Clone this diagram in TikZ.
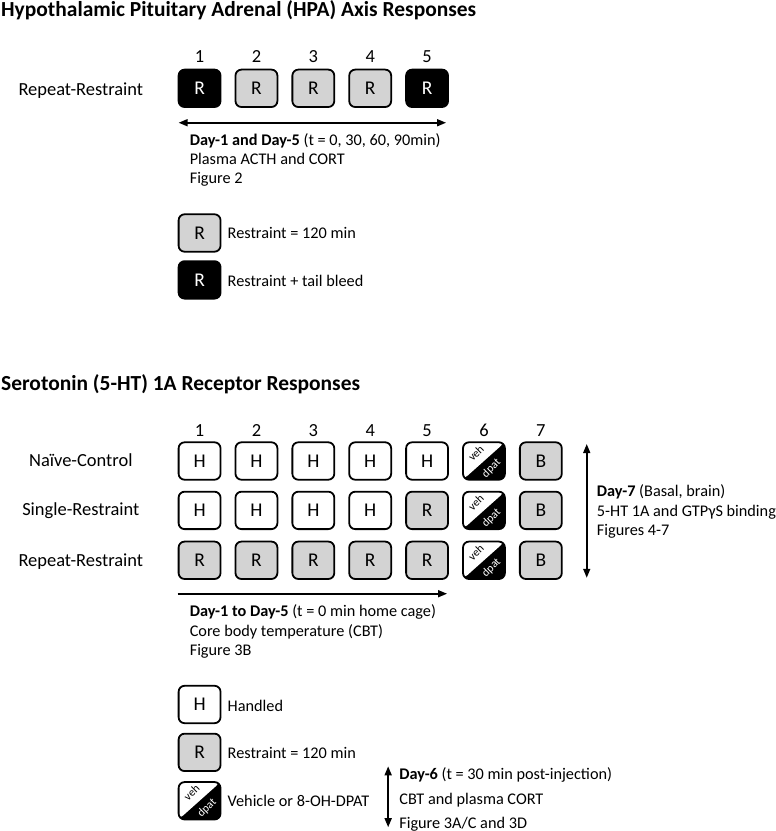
\documentclass[tikz,border=0pt]{standalone}
\usepackage{fontspec}
\setmainfont{Carlito}
\usetikzlibrary{arrows.meta}

\definecolor{restgrey}{RGB}{211,211,211}
\newcommand{\diagfont}{\fontsize{18.5}{20}\selectfont}
\newcommand{\boxfont}{\fontsize{19.5}{20}\selectfont}
\newcommand{\notefont}{\fontsize{16.3}{19}\selectfont}
\newcommand{\headfont}{\fontsize{21.5}{24}\selectfont\bfseries}
\newcommand{\vehfont}{\fontsize{11.5}{12}\selectfont}

\begin{document}
\begin{tikzpicture}[x=1pt, y=-1pt,
    daybox/.style={
        draw=black,
        line width=1.8pt,
        rounded corners=6pt,
        minimum width=42pt,
        minimum height=37.5pt,
        inner sep=0pt,
        font=\boxfont
    },
    handbox/.style={
        daybox,
        fill=white
    },
    restbox/.style={
        daybox,
        fill=restgrey
    },
    bleedbox/.style={
        daybox,
        fill=black,
        text=white
    },
    vehbox/.style={
        daybox,
        fill=black,
        path picture={
            \fill[white]
            (path picture bounding box.north west)
            -- (path picture bounding box.north east)
            -- (path picture bounding box.south west)
            -- cycle;
            \node[
                rotate=45,
                inner sep=0pt,
                font=\vehfont,
                text=black
            ]
            at ([xshift=-8pt,yshift=8pt]path picture bounding box.center) {veh};
            \node[
                rotate=45,
                inner sep=0pt,
                font=\vehfont,
                text=white
            ]
            at ([xshift=7.5pt,yshift=-7.5pt]path picture bounding box.center) {dpat};
        }
    },
    heading/.style={
        anchor=base west,
        inner sep=0pt,
        font=\headfont
    },
    rowlabel/.style={
        anchor=base,
        inner sep=0pt,
        font=\diagfont
    },
    daynum/.style={
        anchor=base,
        inner sep=0pt,
        font=\diagfont
    },
    notetext/.style={
        anchor=base west,
        inner sep=0pt,
        font=\notefont
    },
    timeline/.style={
        line width=1.6pt,
        -{Triangle[length=9pt,width=7pt]}
    },
    spanline/.style={
        line width=1.6pt,
        {Triangle[length=9pt,width=7pt]}-{Triangle[length=9pt,width=7pt]}
    }
]

% HPA axis part
\node[heading] (hpaTitle) at (1,17)
{Hypothalamic Pituitary Adrenal (HPA) Axis Responses};

\node[rowlabel] (hpaRow) at (81,96) {Repeat-Restraint};

\node[daynum] (hpaN1) at (200,63) {1};
\node[daynum] (hpaN2) at (257,63) {2};
\node[daynum] (hpaN3) at (314,63) {3};
\node[daynum] (hpaN4) at (371,63) {4};
\node[daynum] (hpaN5) at (428,63) {5};

\node[bleedbox] (hpaD1) at (200,88.5) {R};
\node[restbox] (hpaD2) at (257,88.5) {R};
\node[restbox] (hpaD3) at (314,88.5) {R};
\node[restbox] (hpaD4) at (371,88.5) {R};
\node[bleedbox] (hpaD5) at (428,88.5) {R};

\coordinate (hpaSpanL) at (179,123);
\coordinate (hpaSpanR) at (447,123);
\draw[spanline] (hpaSpanL) -- (hpaSpanR);

\node[notetext] (hpaNote1) at (190,146)
{\textbf{Day-1 and Day-5} (t = 0, 30, 60, 90min)};
\node[notetext] (hpaNote2) at (190,165) {Plasma ACTH and CORT};
\node[notetext] (hpaNote3) at (190,184) {Figure 2};

% HPA key
\node[restbox] (hpaKeyR) at (200,233.5) {R};
\node[notetext] (hpaKeyRText) at (228,239) {Restraint = 120 min};
\node[bleedbox] (hpaKeyB) at (200,280.5) {R};
\node[notetext] (hpaKeyBText) at (228,287) {Restraint + tail bleed};

% 5-HT 1A part
\node[heading] (htTitle) at (1,391)
{Serotonin (5-HT) 1A Receptor Responses};

\node[daynum] (htN1) at (200,437) {1};
\node[daynum] (htN2) at (257,437) {2};
\node[daynum] (htN3) at (314,437) {3};
\node[daynum] (htN4) at (371,437) {4};
\node[daynum] (htN5) at (428,437) {5};
\node[daynum] (htN6) at (485,437) {6};
\node[daynum] (htN7) at (542,437) {7};

\node[rowlabel] (ncRow) at (81,468) {Naïve-Control};
\node[rowlabel] (srRow) at (81,517) {Single-Restraint};
\node[rowlabel] (rrRow) at (81,568) {Repeat-Restraint};

\node[handbox] (nc1) at (200,462) {H};
\node[handbox] (nc2) at (257,462) {H};
\node[handbox] (nc3) at (314,462) {H};
\node[handbox] (nc4) at (371,462) {H};
\node[handbox] (nc5) at (428,462) {H};
\node[vehbox] (nc6) at (485,462) {};
\node[restbox] (nc7) at (542,462) {B};

\node[handbox] (sr1) at (200,511.5) {H};
\node[handbox] (sr2) at (257,511.5) {H};
\node[handbox] (sr3) at (314,511.5) {H};
\node[handbox] (sr4) at (371,511.5) {H};
\node[restbox] (sr5) at (428,511.5) {R};
\node[vehbox] (sr6) at (485,511.5) {};
\node[restbox] (sr7) at (542,511.5) {B};

\node[restbox] (rr1) at (200,561.5) {R};
\node[restbox] (rr2) at (257,561.5) {R};
\node[restbox] (rr3) at (314,561.5) {R};
\node[restbox] (rr4) at (371,561.5) {R};
\node[restbox] (rr5) at (428,561.5) {R};
\node[vehbox] (rr6) at (485,561.5) {};
\node[restbox] (rr7) at (542,561.5) {B};

\coordinate (htHomeL) at (178,595);
\coordinate (htHomeR) at (448,595);
\draw[timeline] (htHomeL) -- (htHomeR);

\node[notetext] (htHome1) at (190,618)
{\textbf{Day-1 to Day-5} (t = 0 min home cage)};
\node[notetext] (htHome2) at (190,638) {Core body temperature (CBT)};
\node[notetext] (htHome3) at (190,657) {Figure 3B};

\coordinate (htBrainT) at (588,445);
\coordinate (htBrainB) at (588,579);
\draw[spanline] (htBrainT) -- (htBrainB);

\node[notetext] (htBrain1) at (598,498)
{\textbf{Day-7} (Basal, brain)};
\node[notetext] (htBrain2) at (598,518) {5-HT 1A and GTPγS binding};
\node[notetext] (htBrain3) at (598,537) {Figures 4-7};

% 5-HT key
\node[handbox] (htKeyH) at (200,706) {H};
\node[notetext] (htKeyHText) at (228,713) {Handled};
\node[restbox] (htKeyR) at (200,754) {R};
\node[notetext] (htKeyRText) at (228,760) {Restraint = 120 min};
\node[vehbox] (htKeyV) at (200,802.5) {};
\node[notetext] (htKeyVText) at (228,808) {Vehicle or 8-OH-DPAT};

\coordinate (htInjT) at (389,768);
\coordinate (htInjB) at (389,829);
\draw[spanline] (htInjT) -- (htInjB);

\node[notetext] (htInj1) at (400,781)
{\textbf{Day-6} (t = 30 min post-injection)};
\node[notetext] (htInj2) at (400,806) {CBT and plasma CORT};
\node[notetext] (htInj3) at (400,830) {Figure 3A/C and 3D};

\path[use as bounding box] (0,0) rectangle (777,831);
\end{tikzpicture}
\end{document}
